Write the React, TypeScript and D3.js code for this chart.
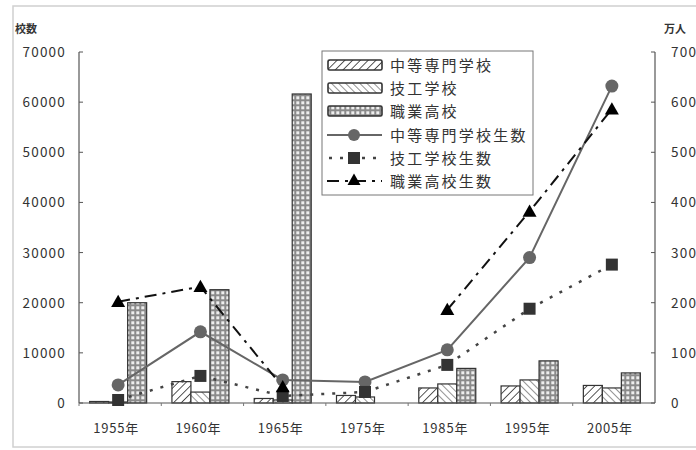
import React from "react";
import * as d3 from "d3";

const categories = ["1955年", "1960年", "1965年", "1975年", "1985年", "1995年", "2005年"];
const schoolsZhongzhuan = [300, 4261, 900, 1500, 3000, 3400, 3500];
const schoolsJigong = [200, 2179, 600, 1200, 3800, 4600, 3000];
const schoolsZhiye = [20000, 22597, 61626, 0, 6900, 8400, 6000];
const studentsZhongzhuan = [36, 142, 46, 42, 106, 290, 632];
const studentsJigong = [6, 54, 14, 22, 76, 188, 276];
const studentsZhiye: (number | null)[] = [202, 232, 32, null, 186, 382, 586];
const leftTicks = [0, 10000, 20000, 30000, 40000, 50000, 60000, 70000];
const rightTicks = [0, 100, 200, 300, 400, 500, 600, 700];
const legendLabels = ["中等専門学校", "技工学校", "職業高校", "中等専門学校生数", "技工学校生数", "職業高校生数"];

const FONT = "'Noto Sans CJK JP', 'Noto Sans', sans-serif";

export default function App() {
  const L = 79, R = 655, T = 52, B = 403;
  const x = d3.scaleBand<string>().domain(categories).range([L, R]);
  const yL = d3.scaleLinear().domain([0, 70000]).range([B, T]);
  const yR = d3.scaleLinear().domain([0, 700]).range([B, T]);
  const bw = 19;
  const cx = (i: number) => (x(categories[i]) as number) + x.bandwidth() / 2 - 2;

  const barSeries = [
    { vals: schoolsZhongzhuan, fill: "url(#pZ)", off: -1.5 * bw },
    { vals: schoolsJigong, fill: "url(#pJ)", off: -0.5 * bw },
    { vals: schoolsZhiye, fill: "url(#pC)", off: 0.5 * bw },
  ];

  const line = d3
    .line<number | null>()
    .defined((d) => d != null)
    .x((_, i) => cx(i))
    .y((d) => yR(d as number));

  const tri = (px: number, py: number, s = 7) =>
    `M${px},${py - s} L${px + s},${py + s * 0.75} L${px - s},${py + s * 0.75} Z`;

  const lg = { x: 322, y: 51, w: 211, h: 144 };
  const rowY = [65, 88, 111, 135, 158, 181];

  return (
    <svg width={696} height={450} style={{ position: "absolute", left: 0, top: 0, background: "#fff" }} fontFamily={FONT}>
      <defs>
        <pattern id="pZ" patternUnits="userSpaceOnUse" width={5.5} height={5.5} patternTransform="rotate(45)">
          <rect width={5.5} height={5.5} fill="#fff" />
          <line x1={0} y1={0} x2={0} y2={5.5} stroke="#444" strokeWidth={1.8} />
        </pattern>
        <pattern id="pJ" patternUnits="userSpaceOnUse" width={5} height={5} patternTransform="rotate(-45)">
          <rect width={5} height={5} fill="#fff" />
          <line x1={0} y1={0} x2={0} y2={5} stroke="#666" strokeWidth={1.4} />
        </pattern>
        <pattern id="pC" patternUnits="userSpaceOnUse" width={5} height={5}>
          <rect width={5} height={5} fill="#8a8a8a" />
          <rect x={1.3} y={1.3} width={3} height={3} fill="#eee" />
        </pattern>
      </defs>

      <rect x={13} y={6} width={700} height={441} fill="none" stroke="#d0d0d0" strokeWidth={1.5} />

      {/* axis titles */}
      <text x={15} y={33} fontSize={11} fill="#333" fontWeight={700}>校数</text>
      <text x={664} y={33} fontSize={11} fill="#333" fontWeight={700}>万人</text>

      {/* bars */}
      {barSeries.map((s, si) =>
        s.vals.map((v, i) =>
          v > 0 ? (
            <rect key={`b${si}-${i}`} x={cx(i) + s.off} y={yL(v)} width={bw} height={B - yL(v)} fill={s.fill} stroke="#333" strokeWidth={1.2} />
          ) : null
        )
      )}

      {/* axes */}
      <line x1={L} y1={T} x2={L} y2={B} stroke="#555" strokeWidth={1.2} />
      <line x1={R} y1={T} x2={R} y2={B} stroke="#555" strokeWidth={1.2} />
      <line x1={L} y1={B} x2={R} y2={B} stroke="#555" strokeWidth={1.2} />
      {leftTicks.map((t) => (
        <g key={`lt${t}`}>
          <line x1={L} x2={L + 4} y1={yL(t)} y2={yL(t)} stroke="#555" />
          <text x={66} y={yL(t) + 5} fontSize={13.5} letterSpacing={1.2} textAnchor="end" fill="#333">{t}</text>
        </g>
      ))}
      {rightTicks.map((t) => (
        <g key={`rt${t}`}>
          <line x1={R - 4} x2={R} y1={yR(t)} y2={yR(t)} stroke="#555" />
          <text x={671} y={yR(t) + 5} fontSize={13.5} letterSpacing={1.2} textAnchor="start" fill="#333">{t}</text>
        </g>
      ))}
      {categories.map((c, i) => (
        <g key={c}>
          <line x1={x(c) as number} x2={x(c) as number} y1={B} y2={B + 3} stroke="#777" />
          <text x={cx(i) - 2} y={433} fontSize={13} letterSpacing={0.8} textAnchor="middle" fill="#333">{c}</text>
        </g>
      ))}

      {/* lines */}
      <path d={line(studentsZhongzhuan) || ""} fill="none" stroke="#666" strokeWidth={2} />
      <path d={line(studentsJigong) || ""} fill="none" stroke="#444" strokeWidth={2.5} strokeDasharray="3,8" />
      <path d={line(studentsZhiye) || ""} fill="none" stroke="#111" strokeWidth={2} strokeDasharray="12,6,3,6" />

      {studentsZhongzhuan.map((v, i) => (
        <circle key={`c${i}`} cx={cx(i)} cy={yR(v)} r={6.5} fill="#666" />
      ))}
      {studentsJigong.map((v, i) => (
        <rect key={`s${i}`} x={cx(i) - 6} y={yR(v) - 6} width={12} height={12} fill="#333" />
      ))}
      {studentsZhiye.map((v, i) =>
        v != null ? <path key={`t${i}`} d={tri(cx(i), yR(v))} fill="#000" /> : null
      )}

      {/* legend */}
      <rect x={lg.x} y={lg.y} width={lg.w} height={lg.h} fill="#fff" stroke="#777" strokeWidth={1} />
      {["url(#pZ)", "url(#pJ)", "url(#pC)"].map((f, i) => (
        <rect key={`lg${i}`} x={328} y={rowY[i] - 5} width={54} height={10} fill={f} stroke="#333" strokeWidth={1.6} rx={1.5} />
      ))}
      <line x1={327} x2={382} y1={rowY[3]} y2={rowY[3]} stroke="#666" strokeWidth={2} />
      <circle cx={354} cy={rowY[3]} r={6} fill="#666" />
      <line x1={327} x2={382} y1={rowY[4]} y2={rowY[4]} stroke="#444" strokeWidth={2.5} strokeDasharray="3,8" strokeDashoffset={-2} />
      <rect x={348} y={rowY[4] - 6} width={12} height={12} fill="#333" />
      <line x1={327} x2={382} y1={rowY[5]} y2={rowY[5]} stroke="#111" strokeWidth={2} strokeDasharray="12,6,3,6" />
      <path d={tri(354, rowY[5] - 1, 6.5)} fill="#000" />
      {legendLabels.map((t, i) => (
        <text key={t} x={390} y={rowY[i] + 6} fontSize={15} letterSpacing={2.2} fill="#333">{t}</text>
      ))}
    </svg>
  );
}
